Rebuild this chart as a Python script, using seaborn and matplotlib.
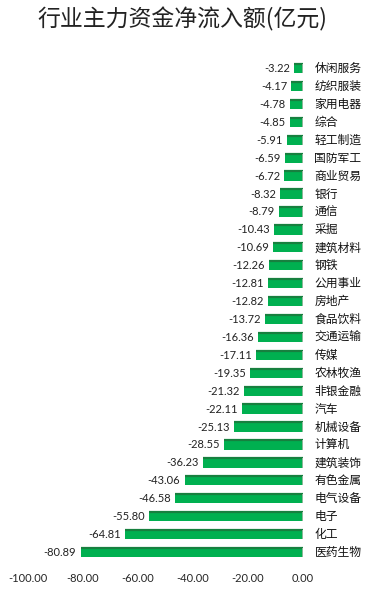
import pandas as pd
import matplotlib
matplotlib.use('Agg')
import matplotlib.pyplot as plt
import seaborn as sns

# 行业及主力资金净流入额(亿元)
industries = ['休闲服务', '纺织服装', '家用电器', '综合', '轻工制造', '国防军工', '商业贸易',
              '银行', '通信', '采掘', '建筑材料', '钢铁', '公用事业', '房地产', '食品饮料',
              '交通运输', '传媒', '农林牧渔', '非银金融', '汽车', '机械设备', '计算机',
              '建筑装饰', '有色金属', '电气设备', '电子', '化工', '医药生物']
net_inflow = [-3.22, -4.17, -4.78, -4.85, -5.91, -6.59, -6.72, -8.32, -8.79, -10.43,
              -10.69, -12.26, -12.81, -12.82, -13.72, -16.36, -17.11, -19.35, -21.32,
              -22.11, -25.13, -28.55, -36.23, -43.06, -46.58, -55.80, -64.81, -80.89]
x_ticks = [-100, -80, -60, -40, -20, 0]

df = pd.DataFrame({'industry': industries, 'value': net_inflow})

sns.set_style('white')
plt.rcParams['font.family'] = ['Noto Sans CJK SC', 'DejaVu Sans']

fig = plt.figure(figsize=(3.73, 5.96), dpi=100)
ax = fig.add_axes([0.075, 0.058, 0.737, 0.842])

sns.barplot(data=df, x='value', y='industry', orient='h', color='#00B050',
            width=0.52, linewidth=0, saturation=1, ax=ax)

# 模拟立体效果：顶部深色、右端(0处)浅灰
for p in ax.patches:
    x0, x1 = sorted([p.get_x(), p.get_x() + p.get_width()])
    y0, y1 = p.get_y(), p.get_y() + p.get_height()
    ax.plot([x0, x1], [y0, y0], color='#17803F', lw=1.6, solid_capstyle='butt')
    ax.plot([x1, x1], [y0, y1], color='#8FB89A', lw=1.4, solid_capstyle='butt')

ax.set_xlim(-100, 0)
ax.set_ylim(len(industries) - 0.5, -0.5)
ax.set_xticks(x_ticks)
ax.set_xticklabels([f'{t:.2f}' for t in x_ticks], fontsize=8, family='Lato')
ax.tick_params(axis='x', length=0, pad=8)
ax.set_yticks([])
ax.set_xlabel('')
ax.set_ylabel('')
for s in ax.spines.values():
    s.set_visible(False)

for i, (name, v) in enumerate(zip(industries, net_inflow)):
    ax.text(v - 1.5, i, f'{v:.2f}', ha='right', va='center', fontsize=8,
            family='Lato', color='#222222')
    ax.text(4.2, i, name, ha='left', va='center', fontsize=8.5,
            color='#111111', clip_on=False)

fig.text(0.49, 0.968, '行业主力资金净流入额(亿元)', ha='center', va='center',
         fontsize=16.5, color='#222222')

fig.savefig('out.png', dpi=100)
